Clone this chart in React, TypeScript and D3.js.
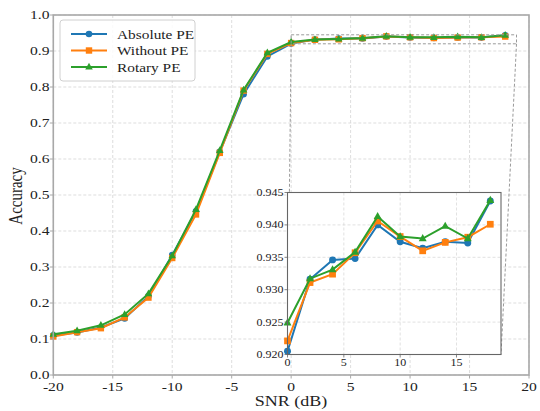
import React from "react";
import * as d3 from "d3";

const snr = [-20, -18, -16, -14, -12, -10, -8, -6, -4, -2, 0, 2, 4, 6, 8, 10, 12, 14, 16, 18];
const absolutePE = [0.110, 0.118, 0.132, 0.157, 0.219, 0.333, 0.455, 0.620, 0.780, 0.885,
  0.9205, 0.9316, 0.9346, 0.9348, 0.9400, 0.9374, 0.9364, 0.9374, 0.9372, 0.9437];
const withoutPE = [0.107, 0.119, 0.130, 0.160, 0.215, 0.325, 0.446, 0.617, 0.790, 0.892,
  0.9221, 0.9311, 0.9324, 0.9357, 0.9406, 0.9382, 0.9360, 0.9373, 0.9381, 0.9401];
const rotaryPE = [0.113, 0.123, 0.138, 0.168, 0.226, 0.331, 0.460, 0.624, 0.792, 0.895,
  0.9249, 0.9317, 0.9331, 0.9358, 0.9413, 0.9382, 0.9379, 0.9398, 0.9379, 0.9438];

const seriesNames = ["Absolute PE", "Without PE", "Rotary PE"];
const seriesColors = ["#1f77b4", "#ff7f0e", "#2ca02c"];
const seriesMarkers = ["circle", "square", "triangle"];
const seriesValues = [absolutePE, withoutPE, rotaryPE];

const xTicks = [-20, -15, -10, -5, 0, 5, 10, 15, 20];
const yTicks = [0.0, 0.1, 0.2, 0.3, 0.4, 0.5, 0.6, 0.7, 0.8, 0.9, 1.0];
const insetXTicks = [0, 5, 10, 15];
const insetYTicks = [0.920, 0.925, 0.930, 0.935, 0.940, 0.945];

const FONT = '"Liberation Serif", "Times New Roman", "DejaVu Serif", serif';
const SX = 1.2;

function T({ x, y, size, anchor = "start", rotate = 0, children, fill = "#222" }: any) {
  return (
    <text
      transform={`translate(${x},${y}) scale(${SX},1)${rotate ? ` rotate(${rotate})` : ""}`}
      style={{ fontFamily: FONT, fontSize: size + "px" }}
      textAnchor={anchor}
      fill={fill}
    >
      {children}
    </text>
  );
}

function Marker({ type, x, y, color, s = 1 }: any) {
  if (type === "circle") return <circle cx={x} cy={y} r={3.3 * s} fill={color} />;
  if (type === "square") {
    const h = 3.2 * s;
    return <rect x={x - h} y={y - h} width={2 * h} height={2 * h} fill={color} />;
  }
  const r = 4.2 * s;
  return (
    <path
      d={`M${x},${y - r} L${x + r * 0.9},${y + r * 0.6} L${x - r * 0.9},${y + r * 0.6} Z`}
      fill={color}
    />
  );
}

export default function App() {
  const W = 540, H = 411;
  const m = { l: 53.3, r: 529, t: 15, b: 375 };
  const x = d3.scaleLinear().domain([-20, 20]).range([m.l, m.r]);
  const y = d3.scaleLinear().domain([0, 1]).range([m.b, m.t]);

  const ins = { l: 287.5, r: 501, t: 192.5, b: 354.5 };
  const ix = d3.scaleLinear().domain([0, 18.95]).range([ins.l, ins.r]);
  const iy = d3.scaleLinear().domain([0.92, 0.945]).range([ins.b, ins.t]);

  const mainLine = (vals: number[]) =>
    d3.line<number>().x((_, i) => x(snr[i])).y((v) => y(v))(vals) || "";

  const insetIdx = snr.map((s, i) => i).filter((i) => snr[i] >= 0);
  const insetLine = (vals: number[]) =>
    d3.line<number>().x((i) => ix(snr[i])).y((i) => iy(vals[i]))(insetIdx) || "";

  const gridColor = "#d4d4d4";
  const spine = "#a8a8a8";
  const iSpine = "#666";

  const zx0 = x(0), zx1 = x(18.95), zy0 = y(0.945), zy1 = y(0.92);

  return (
    <svg width={W} height={H} style={{ position: "absolute", left: 0, top: 0 }}>
      <rect x={0} y={0} width={W} height={H} fill="#fff" />
      {xTicks.map((t) => (
        <line key={"gx" + t} x1={x(t)} x2={x(t)} y1={m.t} y2={m.b} stroke={gridColor} strokeWidth={0.8} strokeDasharray="3,2" />
      ))}
      {yTicks.map((t) => (
        <line key={"gy" + t} x1={m.l} x2={m.r} y1={y(t)} y2={y(t)} stroke={gridColor} strokeWidth={0.8} strokeDasharray="3,2" />
      ))}

      {seriesValues.map((vals, k) => (
        <g key={"s" + k}>
          <path d={mainLine(vals)} fill="none" stroke={seriesColors[k]} strokeWidth={2} />
          {vals.map((v, i) => (
            <Marker key={i} type={seriesMarkers[k]} x={x(snr[i])} y={y(v)} color={seriesColors[k]} />
          ))}
        </g>
      ))}

      <rect x={zx0} y={zy0} width={zx1 - zx0} height={zy1 - zy0} fill="none" stroke="#9a9a9a" strokeWidth={1} strokeDasharray="3,2" />
      <line x1={zx0} y1={zy1} x2={ins.l} y2={ins.b} stroke="#9a9a9a" strokeWidth={1} strokeDasharray="3,2" />
      <line x1={zx1} y1={zy1} x2={ins.r} y2={ins.b} stroke="#9a9a9a" strokeWidth={1} strokeDasharray="3,2" />

      <rect x={m.l} y={m.t} width={m.r - m.l} height={m.b - m.t} fill="none" stroke={spine} strokeWidth={1.6} />
      {xTicks.map((t) => (
        <g key={"xt" + t}>
          <line x1={x(t)} x2={x(t)} y1={m.b} y2={m.b + 3.5} stroke={spine} strokeWidth={1} />
          <T x={x(t)} y={390.5} size={13} anchor="middle">{t}</T>
        </g>
      ))}
      {yTicks.map((t) => (
        <g key={"yt" + t}>
          <line x1={m.l - 3.5} x2={m.l} y1={y(t)} y2={y(t)} stroke={spine} strokeWidth={1} />
          <T x={49.5} y={y(t) + 4.3} size={13} anchor="end">{t.toFixed(1)}</T>
        </g>
      ))}
      <T x={291} y={406} size={15} anchor="middle">SNR (dB)</T>
      <T x={22} y={196} size={15} anchor="middle" rotate={-90}>Accuracy</T>

      <rect x={60} y={20} width={135} height={61} rx={3} fill="#fff" fillOpacity={0.85} stroke="#d0d0d0" strokeWidth={1} />
      {seriesNames.map((name, k) => {
        const ly = 34 + k * 16.5;
        return (
          <g key={"lg" + k}>
            <line x1={71} x2={107} y1={ly} y2={ly} stroke={seriesColors[k]} strokeWidth={2} />
            <Marker type={seriesMarkers[k]} x={89} y={ly} color={seriesColors[k]} />
            <T x={117} y={ly + 4.5} size={12.8}>{name}</T>
          </g>
        );
      })}

      <rect x={ins.l} y={ins.t} width={ins.r - ins.l} height={ins.b - ins.t} fill="#fff" />
      {insetXTicks.map((t) => (
        <line key={"igx" + t} x1={ix(t)} x2={ix(t)} y1={ins.t} y2={ins.b} stroke={gridColor} strokeWidth={0.7} strokeDasharray="3,2" />
      ))}
      {insetYTicks.map((t) => (
        <line key={"igy" + t} x1={ins.l} x2={ins.r} y1={iy(t)} y2={iy(t)} stroke={gridColor} strokeWidth={0.7} strokeDasharray="3,2" />
      ))}
      <defs>
        <clipPath id="insclip">
          <rect x={ins.l - 4} y={ins.t - 1} width={ins.r - ins.l + 8} height={ins.b - ins.t + 2} />
        </clipPath>
      </defs>
      <g clipPath="url(#insclip)">
        {seriesValues.map((vals, k) => (
          <g key={"is" + k}>
            <path d={insetLine(vals)} fill="none" stroke={seriesColors[k]} strokeWidth={2} />
            {insetIdx.map((i) => (
              <Marker key={i} type={seriesMarkers[k]} x={ix(snr[i])} y={iy(vals[i])} color={seriesColors[k]} s={1.05} />
            ))}
          </g>
        ))}
      </g>
      <rect x={ins.l} y={ins.t} width={ins.r - ins.l} height={ins.b - ins.t} fill="none" stroke={iSpine} strokeWidth={1.1} />
      {insetXTicks.map((t) => (
        <g key={"ixt" + t}>
          <line x1={ix(t)} x2={ix(t)} y1={ins.b} y2={ins.b + 3} stroke={iSpine} strokeWidth={0.8} />
          <T x={ix(t)} y={366} size={10} anchor="middle">{t}</T>
        </g>
      ))}
      {insetYTicks.map((t) => (
        <g key={"iyt" + t}>
          <line x1={ins.l - 3} x2={ins.l} y1={iy(t)} y2={iy(t)} stroke={iSpine} strokeWidth={0.8} />
          <T x={283.5} y={iy(t) + 3.5} size={10} anchor="end">{t.toFixed(3)}</T>
        </g>
      ))}
    </svg>
  );
}
